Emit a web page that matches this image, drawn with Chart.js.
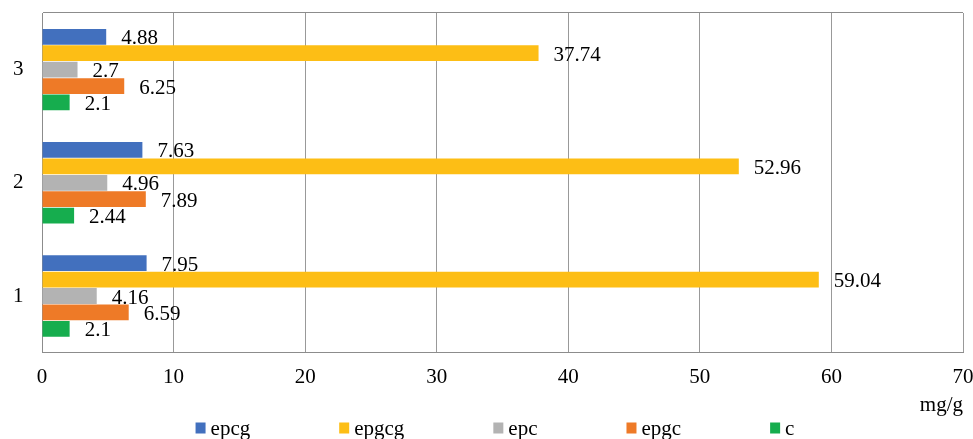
<!DOCTYPE html>
<html>
<head>
<meta charset="utf-8">
<script src="https://cdn.jsdelivr.net/npm/chart.js@4"></script>
<style>
  body { margin: 0; background: #fff; }
</style>
</head>
<body>
<canvas id="myChart" width="973" height="439"></canvas>
<script>
// categories, top to bottom
var labels = ['3', '2', '1'];

var seriesNames = ['epcg', 'epgcg', 'epc', 'epgc', 'c'];
var epcg = [4.88, 7.63, 7.95];
var epgcg = [37.74, 52.96, 59.04];
var epc = [2.7, 4.96, 4.16];
var epgc = [6.25, 7.89, 6.59];
var c = [2.1, 2.44, 2.1];

var xTicks = [0, 10, 20, 30, 40, 50, 60, 70];

var colors = ['#4270BE', '#FDBE15', '#B3B3B3', '#EE7A27', '#16AD4E'];
var FONT = '"Liberation Serif", "Times New Roman", serif';

Chart.defaults.font.family = FONT;
Chart.defaults.color = '#000';

// value labels to the right of each bar
var valueLabels = {
    id: 'valueLabels',
    afterDatasetsDraw: function (chart) {
        var ctx = chart.ctx;
        ctx.save();
        ctx.font = '21px ' + FONT;
        ctx.fillStyle = '#000';
        ctx.textAlign = 'left';
        ctx.textBaseline = 'middle';
        chart.data.datasets.forEach(function (ds, i) {
            chart.getDatasetMeta(i).data.forEach(function (bar, j) {
                ctx.fillText(String(ds.data[j]), bar.x + 15, bar.y + 2);
            });
        });
        ctx.restore();
    }
};

// legend row at the bottom, wide gaps like the original
var bottomLegend = {
    id: 'bottomLegend',
    afterDraw: function (chart) {
        var ctx = chart.ctx;
        var gap = 89, box = 10, textGap = 5;
        ctx.save();
        ctx.font = '21px ' + FONT;
        var widths = chart.data.datasets.map(function (ds) {
            return box + textGap + ctx.measureText(ds.label).width;
        });
        var total = widths.reduce(function (a, b) { return a + b; }, 0) + gap * (widths.length - 1);
        var x = 495 - total / 2;
        var y = 428;
        chart.data.datasets.forEach(function (ds, i) {
            ctx.fillStyle = ds.backgroundColor;
            ctx.fillRect(x, y - 5.5, box, 11);
            ctx.fillStyle = '#000';
            ctx.textBaseline = 'middle';
            ctx.fillText(ds.label, x + box + textGap, y + 1);
            x += widths[i] + gap;
        });
        ctx.restore();
    }
};

var seriesData = [epcg, epgcg, epc, epgc, c];
var datasets = seriesNames.map(function (name, i) {
    return {
        label: name,
        data: seriesData[i],
        backgroundColor: colors[i],
        categoryPercentage: 0.725,
        barPercentage: 0.96
    };
});

var ctx = document.getElementById('myChart').getContext('2d');
var myChart = new Chart(ctx, {
    type: 'bar',
    data: {
        labels: labels,
        datasets: datasets
    },
    options: {
        indexAxis: 'y',
        responsive: false,
        animation: false,
        layout: {
            padding: { left: 13, right: 10, top: 13, bottom: 21 }
        },
        plugins: {
            legend: { display: false },
            tooltip: { enabled: false }
        },
        scales: {
            x: {
                min: 0,
                max: 70,
                afterBuildTicks: function (scale) {
                    scale.ticks = xTicks.map(function (v) { return { value: v }; });
                },
                // fit() counts tick padding twice, take one back
                afterFit: function (scale) {
                    scale.height -= scale.options.ticks.padding;
                    scale.paddingLeft = 0;
                    scale.paddingRight = 0;
                },
                grid: {
                    color: '#999',
                    lineWidth: 1,
                    drawTicks: false
                },
                border: { color: '#8c8c8c', width: 1 },
                ticks: {
                    padding: 12,
                    font: { size: 21 },
                    maxRotation: 0
                },
                title: {
                    display: true,
                    text: 'mg/g',
                    align: 'end',
                    font: { size: 21 },
                    padding: { top: 3, bottom: 0 }
                }
            },
            y: {
                afterFit: function (scale) {
                    scale.width -= scale.options.ticks.padding;
                    scale.paddingTop = 0;
                    scale.paddingBottom = 0;
                },
                grid: {
                    drawTicks: false,
                    color: function (c) {
                        return c.index === 0 ? '#8c8c8c' : 'transparent';
                    }
                },
                border: { color: '#8c8c8c', width: 1 },
                ticks: {
                    padding: 18.5,
                    font: { size: 21 }
                }
            }
        }
    },
    plugins: [valueLabels, bottomLegend]
});
</script>
</body>
</html>
